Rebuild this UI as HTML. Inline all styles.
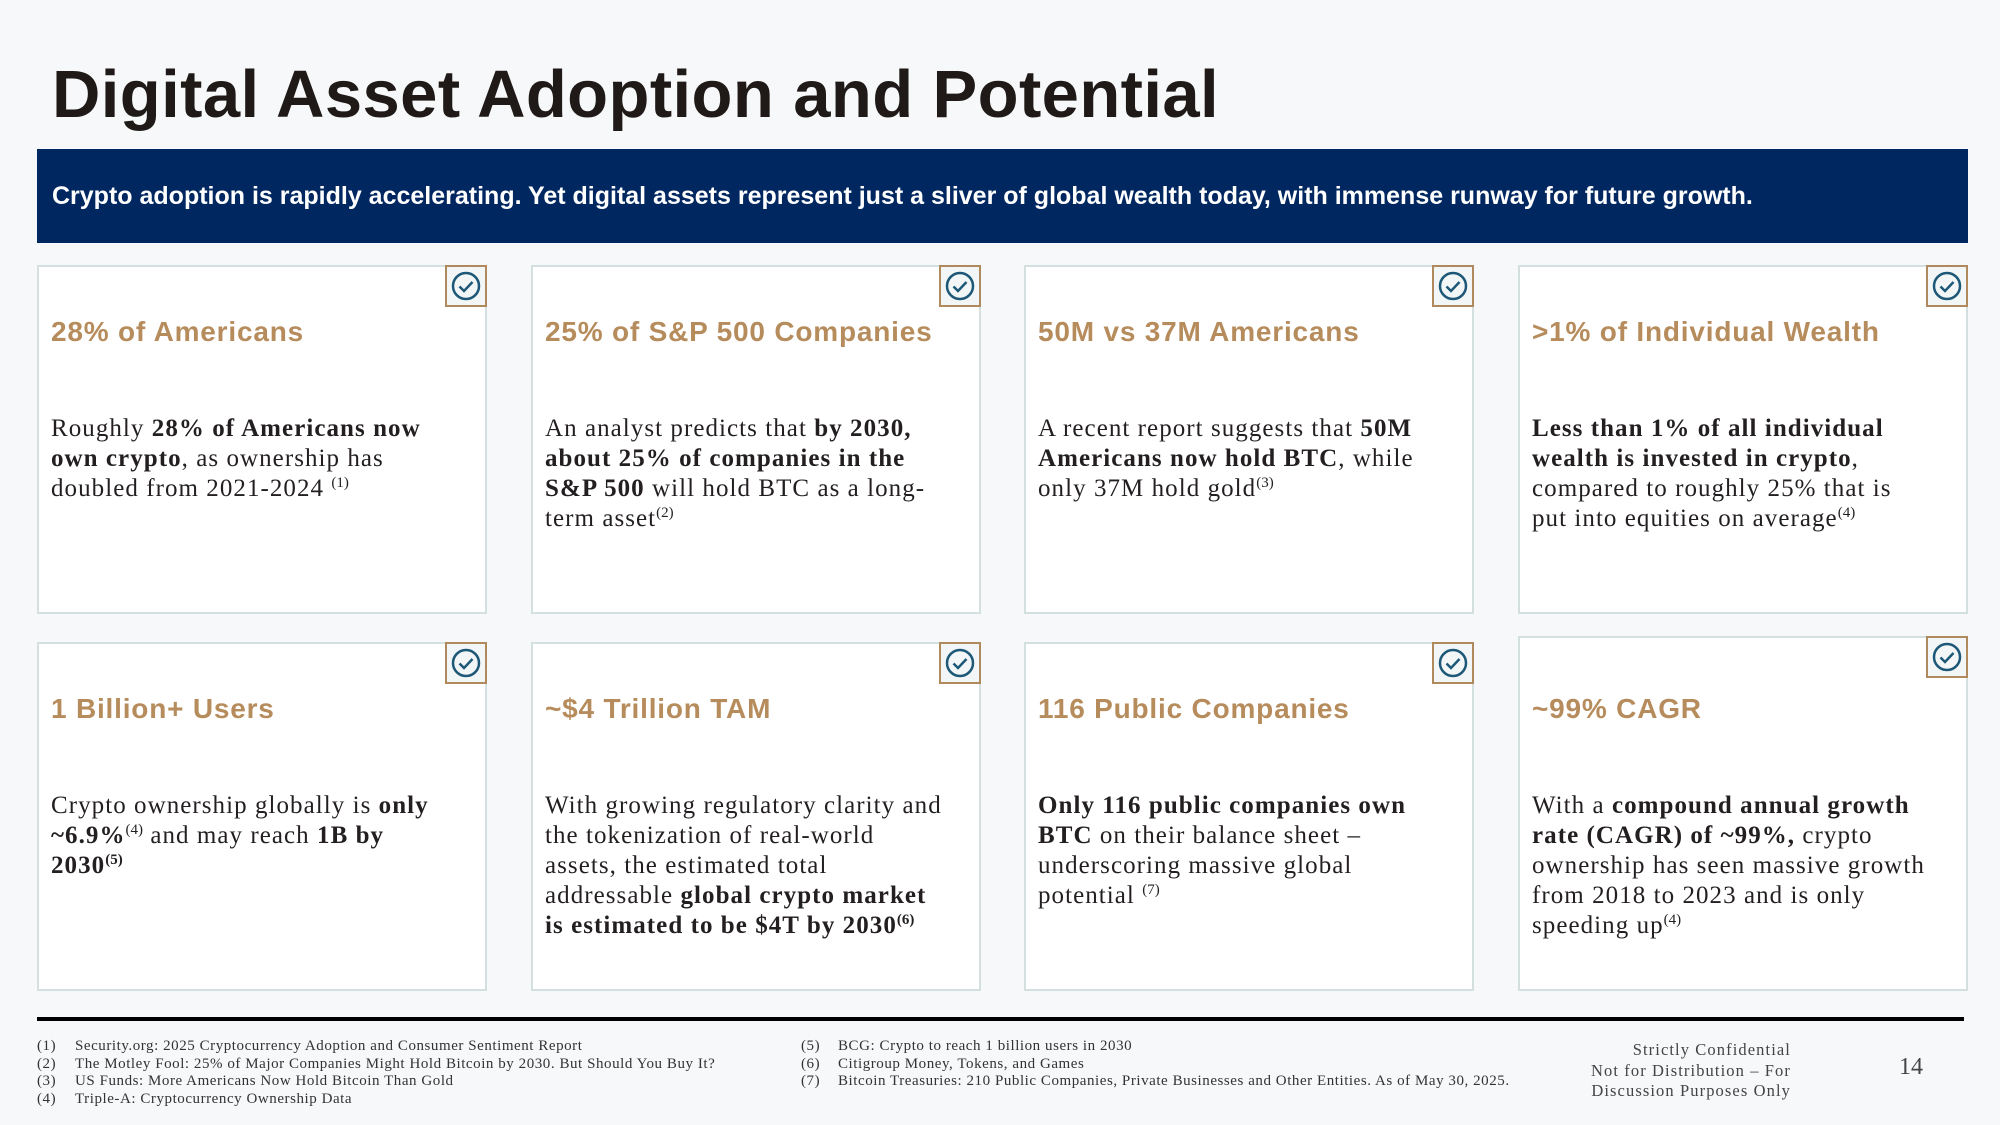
<!DOCTYPE html>
<html><head><meta charset="utf-8"><style>
*{margin:0;padding:0;box-sizing:border-box}
body{width:2000px;height:1125px;background:#f7f8fa;position:relative;overflow:hidden;font-family:"Liberation Sans",sans-serif;color:#231f20}
.abs{position:absolute}
#title{left:52px;top:56px;font-size:67px;font-weight:bold;letter-spacing:0.4px;white-space:nowrap;color:#1f1a17}
#banner{left:37px;top:149px;width:1931px;height:94px;background:#002760;color:#fff;font-size:25px;font-weight:bold;padding-left:15px;line-height:94px;white-space:nowrap}
.card{position:absolute;width:450px;height:349px;background:#fff;border:2px solid #d4e0e0}
.card h2{position:absolute;left:12px;top:49px;font-size:28px;font-weight:bold;color:#b68c5c;white-space:nowrap;letter-spacing:0.8px}
.card p{position:absolute;left:12px;top:147px;font-family:"Liberation Serif",serif;font-size:25px;line-height:30px;color:#231f20;white-space:nowrap;letter-spacing:1.05px}
.card sup{font-size:15px;vertical-align:9px;line-height:0;letter-spacing:0}
.chk{position:absolute;right:-2px;top:-2px;width:42px;height:42px;border:2px solid #b0895c;background:#f3f6f6}
.fn{font-family:"Liberation Serif",serif;font-size:15px;color:#333;white-space:nowrap;letter-spacing:0.55px}
</style></head><body>
<div id="title" class="abs">Digital Asset Adoption and Potential</div>
<div id="banner" class="abs">Crypto adoption is rapidly accelerating. Yet digital assets represent just a sliver of global wealth today, with immense runway for future growth.</div>

<div class="card" style="left:37px;top:265px">
<div class="chk"><svg width="38" height="38"><circle cx="19" cy="19" r="13" fill="none" stroke="#1d5878" stroke-width="2.5"/><path d="M12.5 19.5l4.5 4.5 8.5-9" fill="none" stroke="#1d5878" stroke-width="2.5"/></svg></div>
<h2>28% of Americans</h2>
<p>Roughly <b>28% of Americans now<br>own crypto</b>, as ownership has<br>doubled from 2021-2024 <sup>(1)</sup></p></div>

<div class="card" style="left:531px;top:265px">
<div class="chk"><svg width="38" height="38"><circle cx="19" cy="19" r="13" fill="none" stroke="#1d5878" stroke-width="2.5"/><path d="M12.5 19.5l4.5 4.5 8.5-9" fill="none" stroke="#1d5878" stroke-width="2.5"/></svg></div>
<h2>25% of S&amp;P 500 Companies</h2>
<p>An analyst predicts that <b>by 2030,<br>about 25% of companies in the<br>S&amp;P 500</b> will hold BTC as a long-<br>term asset<sup>(2)</sup></p></div>

<div class="card" style="left:1024px;top:265px">
<div class="chk"><svg width="38" height="38"><circle cx="19" cy="19" r="13" fill="none" stroke="#1d5878" stroke-width="2.5"/><path d="M12.5 19.5l4.5 4.5 8.5-9" fill="none" stroke="#1d5878" stroke-width="2.5"/></svg></div>
<h2>50M vs 37M Americans</h2>
<p>A recent report suggests that <b>50M<br>Americans now hold BTC</b>, while<br>only 37M hold gold<sup>(3)</sup></p></div>

<div class="card" style="left:1518px;top:265px">
<div class="chk"><svg width="38" height="38"><circle cx="19" cy="19" r="13" fill="none" stroke="#1d5878" stroke-width="2.5"/><path d="M12.5 19.5l4.5 4.5 8.5-9" fill="none" stroke="#1d5878" stroke-width="2.5"/></svg></div>
<h2>&gt;1% of Individual Wealth</h2>
<p><b>Less than 1% of all individual<br>wealth is invested in crypto</b>,<br>compared to roughly 25% that is<br>put into equities on average<sup>(4)</sup></p></div>

<div class="card" style="left:37px;top:642px">
<div class="chk"><svg width="38" height="38"><circle cx="19" cy="19" r="13" fill="none" stroke="#1d5878" stroke-width="2.5"/><path d="M12.5 19.5l4.5 4.5 8.5-9" fill="none" stroke="#1d5878" stroke-width="2.5"/></svg></div>
<h2>1 Billion+ Users</h2>
<p>Crypto ownership globally is <b>only<br>~6.9%</b><sup>(4)</sup> and may reach <b>1B by<br>2030<sup>(5)</sup></b></p></div>

<div class="card" style="left:531px;top:642px">
<div class="chk"><svg width="38" height="38"><circle cx="19" cy="19" r="13" fill="none" stroke="#1d5878" stroke-width="2.5"/><path d="M12.5 19.5l4.5 4.5 8.5-9" fill="none" stroke="#1d5878" stroke-width="2.5"/></svg></div>
<h2>~$4 Trillion TAM</h2>
<p>With growing regulatory clarity and<br>the tokenization of real-world<br>assets, the estimated total<br>addressable <b>global crypto market<br>is estimated to be $4T by 2030<sup>(6)</sup></b></p></div>

<div class="card" style="left:1024px;top:642px">
<div class="chk"><svg width="38" height="38"><circle cx="19" cy="19" r="13" fill="none" stroke="#1d5878" stroke-width="2.5"/><path d="M12.5 19.5l4.5 4.5 8.5-9" fill="none" stroke="#1d5878" stroke-width="2.5"/></svg></div>
<h2>116 Public Companies</h2>
<p><b>Only 116 public companies own<br>BTC</b> on their balance sheet –<br>underscoring massive global<br>potential <sup>(7)</sup></p></div>

<div class="card" style="left:1518px;top:636px;height:355px">
<div class="chk"><svg width="38" height="38"><circle cx="19" cy="19" r="13" fill="none" stroke="#1d5878" stroke-width="2.5"/><path d="M12.5 19.5l4.5 4.5 8.5-9" fill="none" stroke="#1d5878" stroke-width="2.5"/></svg></div>
<h2 style="top:55px">~99% CAGR</h2>
<p style="top:153px">With a <b>compound annual growth<br>rate (CAGR) of ~99%,</b> crypto<br>ownership has seen massive growth<br>from 2018 to 2023 and is only<br>speeding up<sup>(4)</sup></p></div>

<div class="abs" style="left:37px;top:1017px;width:1927px;height:4px;background:#000"></div>

<div class="abs fn" style="left:37px;top:1038px;line-height:17.7px">(1)<br>(2)<br>(3)<br>(4)</div>
<div class="abs fn" style="left:75px;top:1038px;line-height:17.7px">Security.org: 2025 Cryptocurrency Adoption and Consumer Sentiment Report<br>The Motley Fool: 25% of Major Companies Might Hold Bitcoin by 2030. But Should You Buy It?<br>US Funds: More Americans Now Hold Bitcoin Than Gold<br>Triple-A: Cryptocurrency Ownership Data</div>
<div class="abs fn" style="left:801px;top:1038px;line-height:17.7px">(5)<br>(6)<br>(7)</div>
<div class="abs fn" style="left:838px;top:1038px;line-height:17.7px">BCG: Crypto to reach 1 billion users in 2030<br>Citigroup Money, Tokens, and Games<br>Bitcoin Treasuries: 210 Public Companies, Private Businesses and Other Entities. As of May 30, 2025.</div>
<div class="abs fn" style="right:209px;top:1040px;font-size:16.5px;line-height:20.5px;text-align:right;color:#444;letter-spacing:1.1px">Strictly Confidential<br>Not for Distribution – For<br>Discussion Purposes Only</div>
<div class="abs fn" style="left:1899px;top:1054px;font-size:24px;color:#444;letter-spacing:0">14</div>
</body></html>
